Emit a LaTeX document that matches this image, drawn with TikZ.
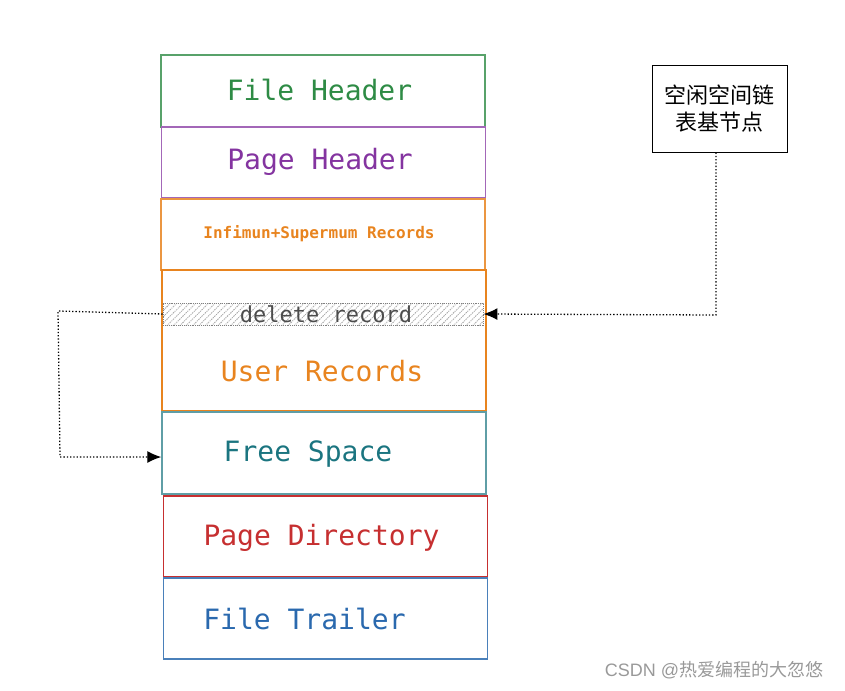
\documentclass[tikz,border=0pt]{standalone}
\usepackage{fontspec}
\setmonofont{DejaVu Sans Mono}
\newfontfamily\cjk{Noto Sans CJK SC}
\usetikzlibrary{patterns.meta,arrows.meta}
\definecolor{fhgreen}{HTML}{2E8B45}
\definecolor{phpurple}{HTML}{8434A0}
\definecolor{recorange}{HTML}{E8841F}
\definecolor{fsteal}{HTML}{1B7580}
\definecolor{pdred}{HTML}{C62F30}
\definecolor{ftblue}{HTML}{2A69AE}
\begin{document}
\begin{tikzpicture}[x=1pt, y=-1pt,
  part/.style = {draw, line width=1.4pt, minimum width=324pt, inner sep=0pt},
  partlabel/.style = {font=\ttfamily\fontsize{28}{30}\selectfont},
  link/.style = {dotted, line width=1.3pt, -{Latex[length=14pt,width=12pt]}}]
\useasboundingbox (0,0) rectangle (845,690);
\node[part, fhgreen!80, minimum height=72pt] (fh) at (323,91) {};
\node[partlabel, fhgreen] (fht) at (319.5,90) {File Header};
\node[part, phpurple!75, minimum height=71pt] (ph) at (323.5,162.5) {};
\node[partlabel, phpurple] (pht) at (320,162) {Page Header};
\node[part, recorange!85, minimum height=71pt] (inf) at (323,234.5) {};
\node[recorange, font=\ttfamily\bfseries\fontsize{16}{18}\selectfont] (inft) at (319,234) {Infimun+Supermum Records};
\node[part, recorange, minimum height=141pt] (ur) at (324,340.5) {};
\node[partlabel, recorange] (urt) at (322,371) {User Records};
\node[pattern={Lines[angle=45,distance=4.5pt,line width=0.9pt]}, pattern color=gray!70, draw=gray, densely dotted, minimum width=320pt, minimum height=22pt, inner sep=0pt] (del) at (323,314) {};
\node[text=black!70, font=\ttfamily\fontsize{22}{24}\selectfont] (delt) at (326,314) {delete record};
\node[part, fsteal!70, minimum height=82pt] (fs) at (324,453) {};
\node[partlabel, fsteal] (fst) at (308,454) {Free Space};
\node[part, pdred, minimum height=81pt] (pd) at (325.5,536.5) {};
\node[partlabel, pdred] (pdt) at (321.5,538) {Page Directory};
\node[part, ftblue!85, minimum height=81pt] (ft) at (325.5,618.5) {};
\node[partlabel, ftblue] (ftt) at (304.5,619) {File Trailer};
\node[draw, line width=1pt, minimum width=135pt, minimum height=86pt, align=center, font=\cjk\fontsize{22}{27}\selectfont] (free) at (719.5,109) {空闲空间链\\表基节点};
\node[text=gray!80, font=\fontspec{Liberation Sans}\fontsize{18}{20}\selectfont] (mark) at (714,670) {CSDN @\cjk 热爱编程的大忽悠};
% free list head -> deleted record
\coordinate (c1) at (716,315);
\draw[link] (free.south -| c1) -- (c1) -- (del.east);
% deleted record reused as free space
\coordinate (c2) at (58,311);
\coordinate (c3) at (60,457);
\draw[link] (del.west) -- (c2) -- (c3) -- (fs.west |- c3);
\end{tikzpicture}
\end{document}
